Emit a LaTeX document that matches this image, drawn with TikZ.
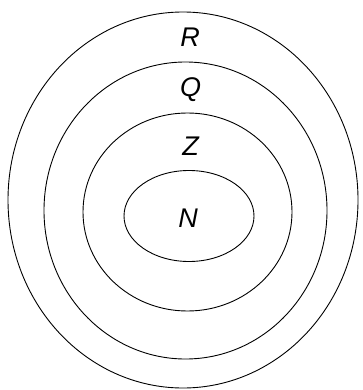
\documentclass[tikz,border=0pt]{standalone}
\usepackage{fontspec}
\setmainfont{Liberation Sans}
\begin{document}
\begin{tikzpicture}[x=1pt,y=-1pt,
  ring/.style={draw=black,line width=0.9pt},
  lbl/.style={font=\fontsize{27}{29}\selectfont\itshape,inner sep=0pt}]
\useasboundingbox (0,0) rectangle (363,390);
\draw[ring] (183,200) ellipse [x radius=175,y radius=188];
\draw[ring] (185.5,210.5) ellipse [x radius=141.5,y radius=148.5];
\draw[ring] (187.5,212) ellipse [x radius=104.5,y radius=99];
\draw[ring] (189,216) ellipse [x radius=65,y radius=45.5];
\node[lbl] (R) at (190,37) {R};
\node[lbl] (Q) at (190.5,90) {Q};
\node[lbl] (Z) at (190.5,146.5) {Z};
\node[lbl] (N) at (188,218) {N};
\end{tikzpicture}
\end{document}
